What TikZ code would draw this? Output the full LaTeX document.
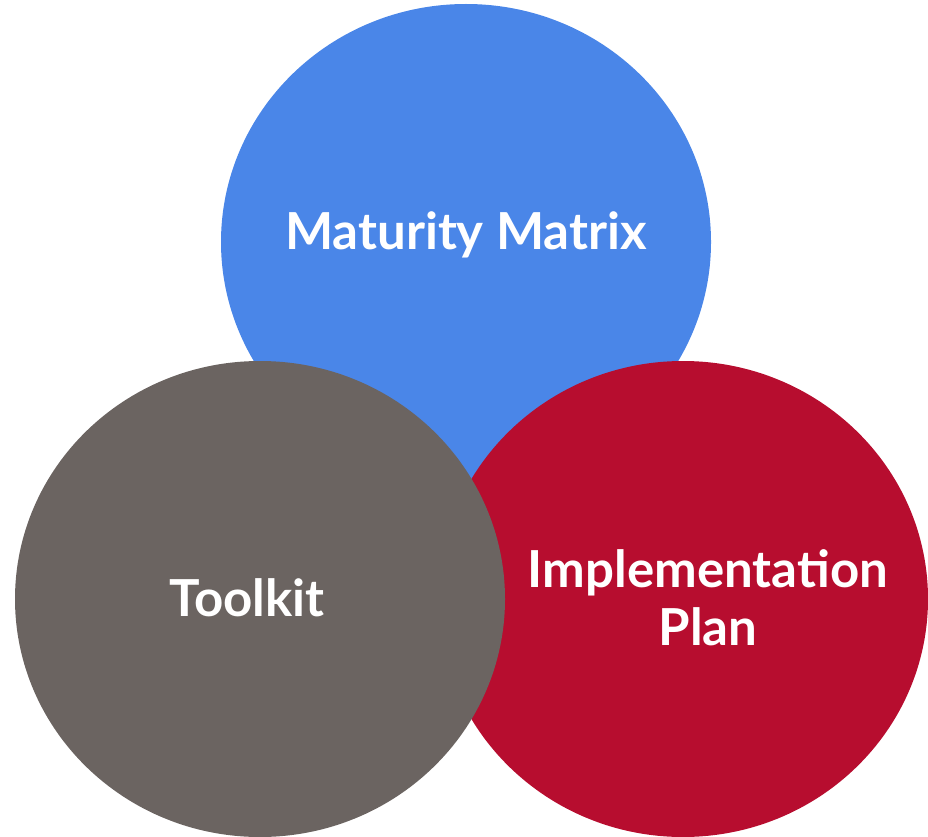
\documentclass[tikz,border=0pt]{standalone}
\usepackage{fontspec}
\usetikzlibrary{shapes.geometric}
\setmainfont{Lato}
\definecolor{cblue}{HTML}{4A86E8}
\definecolor{cgray}{HTML}{6B6461}
\definecolor{cred}{HTML}{B70D2F}
\begin{document}
\begin{tikzpicture}[x=1pt,y=-1pt,
  disc/.style={ellipse,minimum width=490pt,minimum height=476pt,inner sep=0pt,draw=none},
  lbl/.style={text=white,font=\bfseries\fontsize{51}{58}\selectfont,align=center}]
\useasboundingbox (0,0) rectangle (928,837);
\node[disc,fill=cblue] (blue) at (466,242) {};
\node[disc,fill=cred] (red) at (683,599) {};
\node[disc,fill=cgray] (gray) at (260,599) {};
\node[lbl] (t1) at (466,235) {Maturity Matrix};
\node[lbl] (t2) at (247,598) {Toolkit};
\node[lbl] (t3) at (708,598) {Implementation\\Plan};
\end{tikzpicture}
\end{document}
